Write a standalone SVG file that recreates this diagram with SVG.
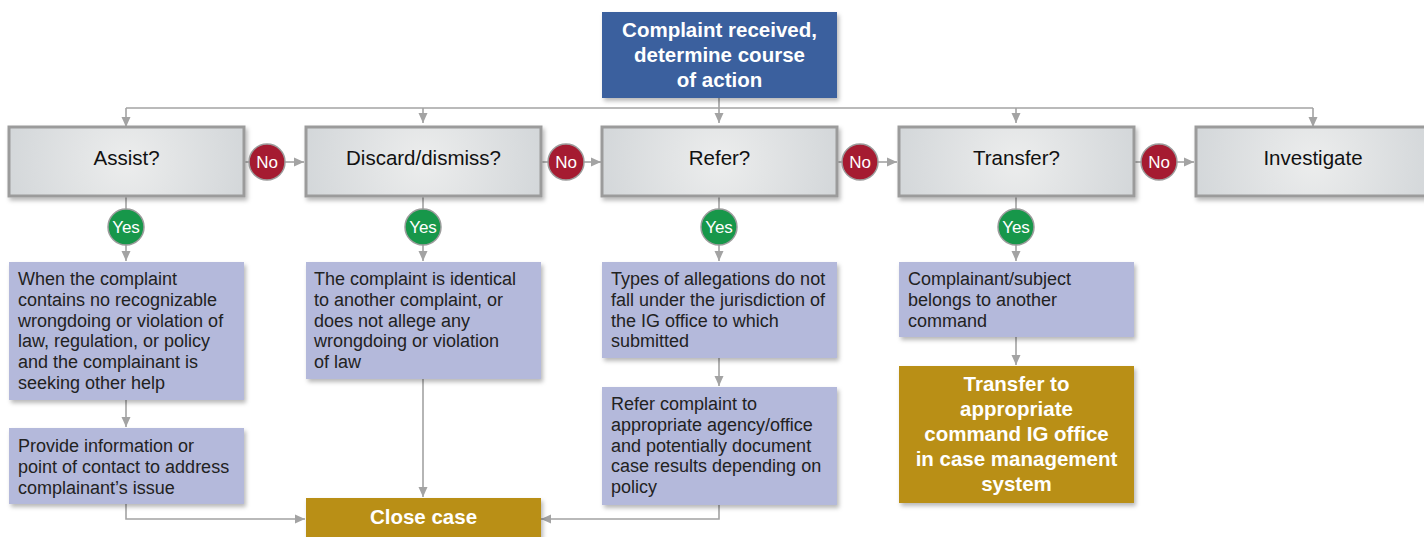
<svg xmlns="http://www.w3.org/2000/svg" width="1424" height="537" viewBox="0 0 1424 537">
<defs>
<style>
.dec{stroke:#9b9b9b;stroke-width:3;fill:url(#dg)}
.dt{font-family:"Liberation Sans",Arial,sans-serif;font-size:20.5px;fill:#111;text-anchor:middle}
.ct{font-family:"Liberation Sans",Arial,sans-serif;font-size:18px;fill:#222}
.bt{font-family:"Liberation Sans",Arial,sans-serif;font-size:20.5px;font-weight:bold;fill:#fff;text-anchor:middle}
.lav{fill:#b4b9db}
.gold{fill:#b98f17}
.no{fill:#a51b31;stroke:#9c9c9c;stroke-width:1.5}
.yes{fill:#17974a;stroke:#9c9c9c;stroke-width:1.5}
.ynt{font-family:"Liberation Sans",Arial,sans-serif;font-size:17px;fill:#fff;text-anchor:middle}
.cn{fill:none;stroke:#a3a3a3;stroke-width:1.6;marker-end:url(#ah)}
.cl{fill:none;stroke:#a3a3a3;stroke-width:1.6}
</style>
<radialGradient id="dg" cx="0.5" cy="0.5" r="0.6" gradientTransform="translate(0.5 0.5) scale(1 3.4) translate(-0.5 -0.5)">
<stop offset="0" stop-color="#eceded"/>
<stop offset="1" stop-color="#cfd3d6"/>
</radialGradient>
<filter id="sh" x="-10%" y="-10%" width="125%" height="130%">
<feDropShadow dx="2" dy="3" stdDeviation="2" flood-color="#000" flood-opacity="0.28"/>
</filter>
<marker id="ah" markerUnits="userSpaceOnUse" markerWidth="10" markerHeight="10" viewBox="0 0 10 10" refX="10" refY="5" orient="auto">
<path d="M0,0.5 L10,5 L0,9.5 Z" fill="#a3a3a3"/>
</marker>
</defs>
<rect width="1424" height="537" fill="#fff"/>

<g id="connectors">
<path class="cl" d="M126,108 H1313"/>
<path class="cn" d="M126,108 V127"/>
<path class="cn" d="M423,108 V123"/>
<path class="cn" d="M719,98 V123"/>
<path class="cn" d="M1016,108 V123"/>
<path class="cn" d="M1313,108 V127"/>
<path class="cl" d="M244,162 H249"/>
<path class="cn" d="M285,162 H304"/>
<path class="cl" d="M541,162 H548"/>
<path class="cn" d="M584,162 H601"/>
<path class="cl" d="M837,162 H842"/>
<path class="cn" d="M878,162 H897"/>
<path class="cl" d="M1134,162 H1141"/>
<path class="cn" d="M1177,162 H1194"/>
<path class="cl" d="M126,197 V209"/>
<path class="cn" d="M126,245 V261"/>
<path class="cl" d="M423,197 V209"/>
<path class="cn" d="M423,245 V261"/>
<path class="cl" d="M719,197 V209"/>
<path class="cn" d="M719,245 V261"/>
<path class="cl" d="M1016,197 V209"/>
<path class="cn" d="M1016,245 V261"/>
<path class="cn" d="M126,400 V427"/>
<path class="cn" d="M719,358 V386"/>
<path class="cn" d="M1016,337 V365"/>
<path class="cn" d="M423,379 V497"/>
<path class="cn" d="M126,504 V519 H305"/>
<path class="cn" d="M719,505 V519 H541"/>
</g>

<g id="start">
<rect x="602" y="12" width="235" height="86" fill="#3a609e" filter="url(#sh)"/>
<text class="bt" x="719.5" y="37">Complaint received,</text>
<text class="bt" x="719.5" y="62">determine course</text>
<text class="bt" x="719.5" y="87">of action</text>
</g>

<g id="assist">
<rect class="dec" x="9" y="127" width="235" height="69" filter="url(#sh)"/>
<text class="dt" x="126.5" y="165">Assist?</text>
</g>
<g id="discard">
<rect class="dec" x="306" y="127" width="235" height="69" filter="url(#sh)"/>
<text class="dt" x="423.5" y="165">Discard/dismiss?</text>
</g>
<g id="refer">
<rect class="dec" x="602" y="127" width="235" height="69" filter="url(#sh)"/>
<text class="dt" x="719.5" y="165">Refer?</text>
</g>
<g id="transfer">
<rect class="dec" x="899" y="127" width="235" height="69" filter="url(#sh)"/>
<text class="dt" x="1016.5" y="165">Transfer?</text>
</g>
<g id="investigate">
<rect class="dec" x="1196" y="127" width="235" height="69" filter="url(#sh)"/>
<text class="dt" x="1313" y="165">Investigate</text>
</g>

<g id="no1"><circle class="no" cx="267" cy="162" r="18"/><text class="ynt" x="267" y="168">No</text></g>
<g id="no2"><circle class="no" cx="566" cy="162" r="18"/><text class="ynt" x="566" y="168">No</text></g>
<g id="no3"><circle class="no" cx="860" cy="162" r="18"/><text class="ynt" x="860" y="168">No</text></g>
<g id="no4"><circle class="no" cx="1159" cy="162" r="18"/><text class="ynt" x="1159" y="168">No</text></g>

<g id="yes1"><circle class="yes" cx="126" cy="227" r="18"/><text class="ynt" x="126" y="233">Yes</text></g>
<g id="yes2"><circle class="yes" cx="423" cy="227" r="18"/><text class="ynt" x="423" y="233">Yes</text></g>
<g id="yes3"><circle class="yes" cx="719" cy="227" r="18"/><text class="ynt" x="719" y="233">Yes</text></g>
<g id="yes4"><circle class="yes" cx="1016" cy="227" r="18"/><text class="ynt" x="1016" y="233">Yes</text></g>

<g id="assist-detail">
<rect class="lav" x="9" y="262" width="235" height="138" filter="url(#sh)"/>
<text class="ct" x="18" y="285">When the complaint</text>
<text class="ct" x="18" y="305.8">contains no recognizable</text>
<text class="ct" x="18" y="326.6">wrongdoing or violation of</text>
<text class="ct" x="18" y="347.4">law, regulation, or policy</text>
<text class="ct" x="18" y="368.2">and the complainant is</text>
<text class="ct" x="18" y="389">seeking other help</text>
</g>
<g id="provide">
<rect class="lav" x="9" y="428" width="235" height="76" filter="url(#sh)"/>
<text class="ct" x="18" y="452">Provide information or</text>
<text class="ct" x="18" y="472.8">point of contact to address</text>
<text class="ct" x="18" y="493.6">complainant’s issue</text>
</g>
<g id="discard-detail">
<rect class="lav" x="306" y="262" width="235" height="117" filter="url(#sh)"/>
<text class="ct" x="314" y="285">The complaint is identical</text>
<text class="ct" x="314" y="305.8">to another complaint, or</text>
<text class="ct" x="314" y="326.6">does not allege any</text>
<text class="ct" x="314" y="347.4">wrongdoing or violation</text>
<text class="ct" x="314" y="368.2">of law</text>
</g>
<g id="refer-detail">
<rect class="lav" x="602" y="262" width="235" height="96" filter="url(#sh)"/>
<text class="ct" x="611" y="285">Types of allegations do not</text>
<text class="ct" x="611" y="305.8">fall under the jurisdiction of</text>
<text class="ct" x="611" y="326.6">the IG office to which</text>
<text class="ct" x="611" y="347.4">submitted</text>
</g>
<g id="refer-action">
<rect class="lav" x="602" y="387" width="235" height="118" filter="url(#sh)"/>
<text class="ct" x="611" y="410">Refer complaint to</text>
<text class="ct" x="611" y="430.8">appropriate agency/office</text>
<text class="ct" x="611" y="451.6">and potentially document</text>
<text class="ct" x="611" y="472.4">case results depending on</text>
<text class="ct" x="611" y="493.2">policy</text>
</g>
<g id="transfer-detail">
<rect class="lav" x="899" y="262" width="235" height="75" filter="url(#sh)"/>
<text class="ct" x="908" y="285">Complainant/subject</text>
<text class="ct" x="908" y="305.8">belongs to another</text>
<text class="ct" x="908" y="326.6">command</text>
</g>
<g id="transfer-action">
<rect class="gold" x="899" y="366" width="235" height="137" filter="url(#sh)"/>
<text class="bt" x="1016.5" y="391">Transfer to</text>
<text class="bt" x="1016.5" y="416">appropriate</text>
<text class="bt" x="1016.5" y="441">command IG office</text>
<text class="bt" x="1016.5" y="466">in case management</text>
<text class="bt" x="1016.5" y="491">system</text>
</g>
<g id="close-case">
<rect class="gold" x="306" y="498" width="235" height="45" filter="url(#sh)"/>
<text class="bt" x="423.5" y="524">Close case</text>
</g>
</svg>
